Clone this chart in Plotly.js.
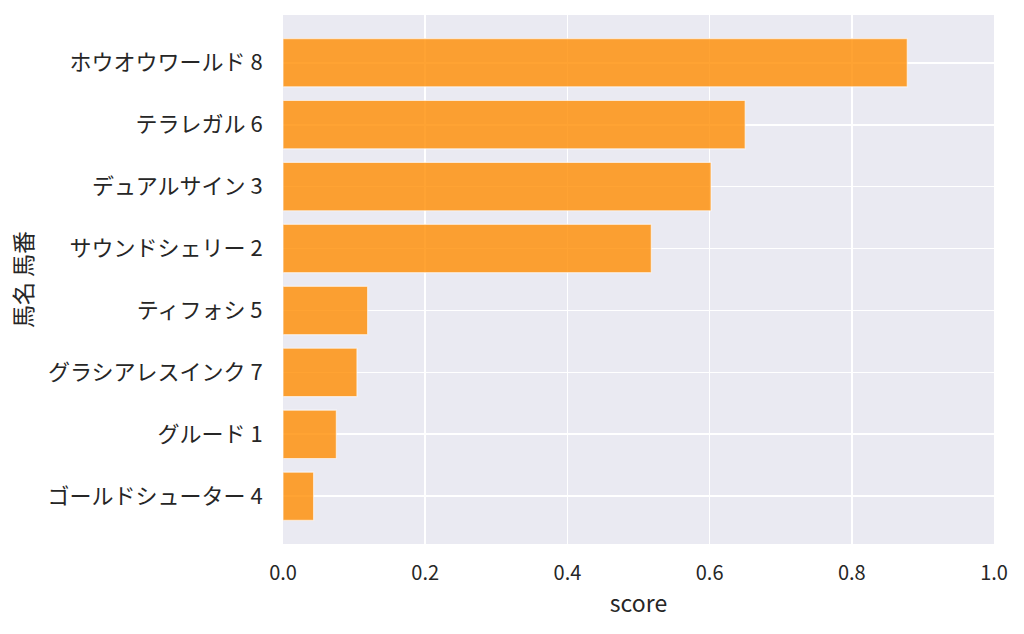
<!DOCTYPE html>
<html>
<head>
<meta charset="utf-8">
<script src="https://cdn.plot.ly/plotly-3.0.1.min.js"></script>
<style>
    body { margin: 0; background: #fff; }
    #grafico { width: 1024px; height: 634px; }
</style>
</head>
<body>
<div id="grafico"></div>
<script>
// datos (de arriba hacia abajo)
const caballos = ["ホウオウワールド 8", "テラレガル 6", "デュアルサイン 3", "サウンドシェリー 2",
    "ティフォシ 5", "グラシアレスインク 7", "グルード 1", "ゴールドシューター 4"];
const puntajes = [0.878, 0.650, 0.602, 0.518, 0.119, 0.104, 0.075, 0.043];
const ticksX = [0, 0.2, 0.4, 0.6, 0.8, 1.0];
const etiquetasX = ["0.0", "0.2", "0.4", "0.6", "0.8", "1.0"];

const fuente = "Noto Sans CJK JP, Noto Sans, sans-serif";

var trace = {
    type: 'bar',
    orientation: 'h',
    x: puntajes,
    y: caballos,
    width: 0.78,
    marker: {
        color: 'rgba(255,140,0,0.8)',
        line: { color: 'rgba(255,255,255,0.6)', width: 1.2 }
    },
    hoverinfo: 'x+y'
};

var layout = {
    width: 1024,
    height: 634,
    margin: { l: 283, r: 30, t: 15, b: 90 },
    paper_bgcolor: '#ffffff',
    plot_bgcolor: '#EAEAF2',
    font: { family: fuente, size: 21, color: '#262626' },
    showlegend: false,
    bargap: 0,
    xaxis: {
        range: [0, 1],
        tickvals: ticksX,
        ticktext: etiquetasX,
        showgrid: true,
        gridcolor: '#ffffff',
        gridwidth: 1.8,
        zeroline: false,
        showline: false,
        ticks: 'outside',
        ticklen: 11,
        tickcolor: 'rgba(0,0,0,0)',
        tickfont: { family: fuente, size: 20, color: '#262626' },
        title: { text: 'score', font: { family: fuente, size: 23, color: '#262626' }, standoff: 10 }
    },
    yaxis: {
        type: 'category',
        range: [7.77, -0.77],
        showgrid: true,
        gridcolor: '#ffffff',
        gridwidth: 1.8,
        zeroline: false,
        showline: false,
        ticks: 'outside',
        ticklen: 15,
        tickcolor: 'rgba(0,0,0,0)',
        tickfont: { family: fuente, size: 22, color: '#262626' },
        title: { text: '馬名 馬番', font: { family: fuente, size: 23, color: '#262626' }, standoff: 8 }
    }
};

Plotly.newPlot('grafico', [trace], layout, { displayModeBar: false, staticPlot: true });
</script>
</body>
</html>
